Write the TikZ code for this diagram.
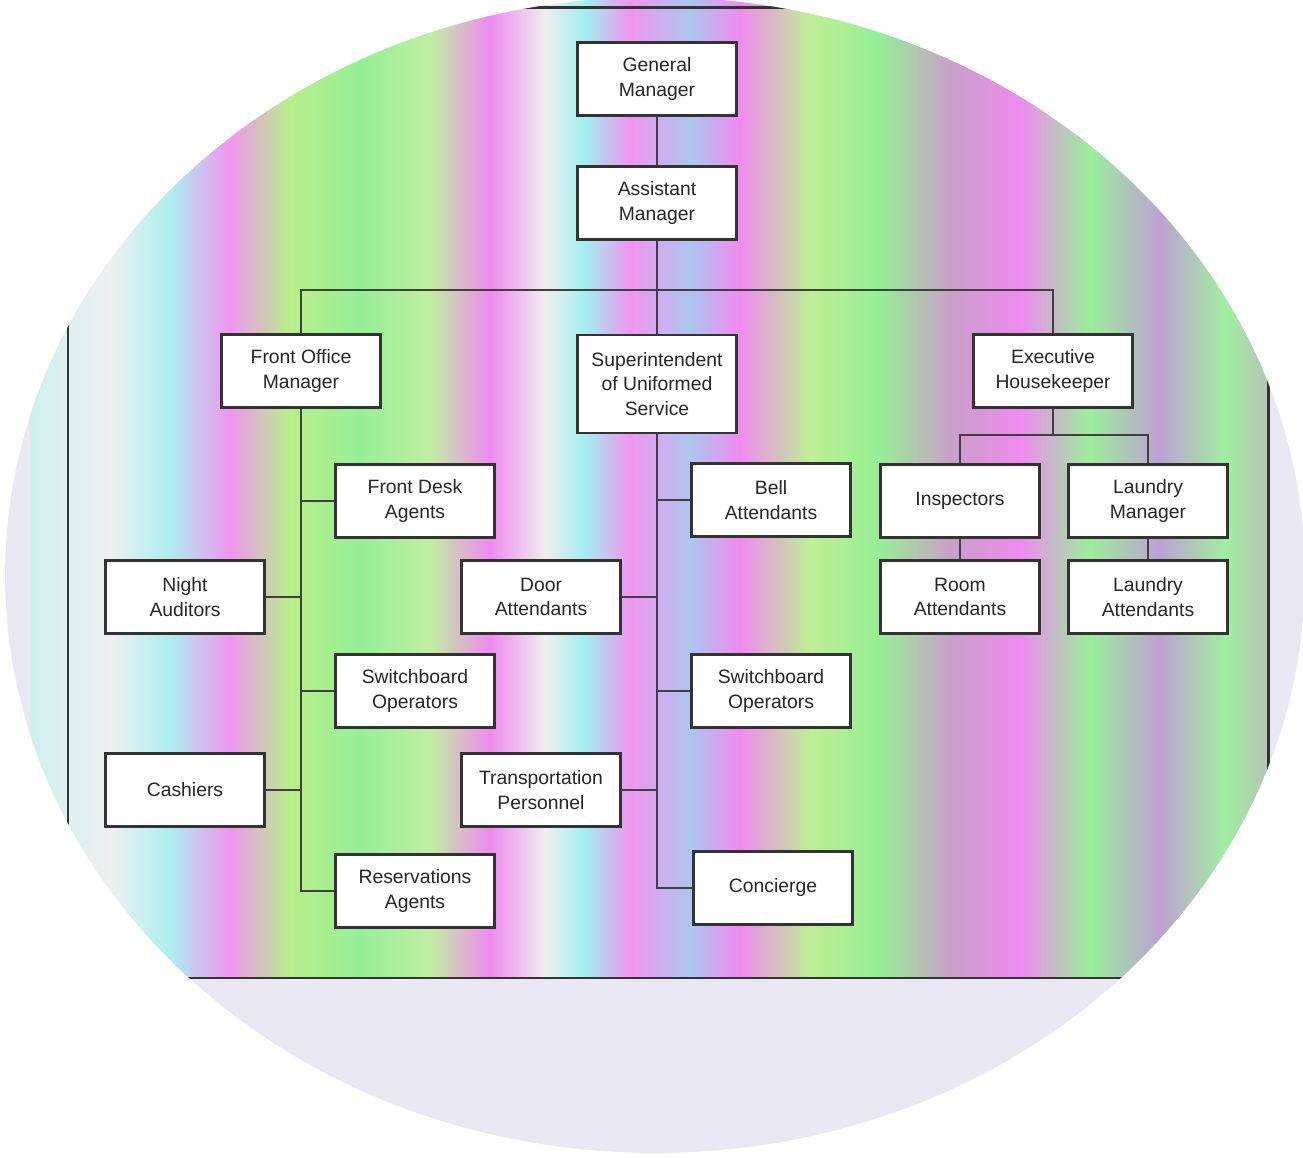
\documentclass[tikz,border=0pt]{standalone}
\usepackage{fontspec}
\setmainfont{Liberation Sans}
\definecolor{palebg}{RGB}{233,231,242}
\begin{document}
\begin{tikzpicture}[x=0.02cm,y=-0.02cm,
  box/.style={draw=black!80, line width=1.2pt, fill=white, minimum width=3.18cm, minimum height=1.46cm,
    align=center, font=\fontsize{11}{14}\selectfont, text=black!85, inner sep=1pt},
  tall/.style={minimum height=1.96cm},
  link/.style={draw=black!75, line width=1.1pt},
  framel/.style={draw=black!80, line width=1.7pt}]
\useasboundingbox (0,0) rectangle (1303,1158);
\fill[white] (0,0) rectangle (1303,1158);
% circular coloured backdrop
\fill[palebg] (655,575) ellipse [x radius=13cm, y radius=11.56cm];
\begin{scope}
  \clip (655,575) ellipse [x radius=13cm, y radius=11.56cm];
  \clip (30,0) rectangle (1268,978);
  \shade[left color=cyan!20, right color=white] (0,0) rectangle (110,978);
  \shade[left color=white, right color=cyan!30] (110,0) rectangle (170,978);
  \shade[left color=cyan!30, right color=magenta!40] (170,0) rectangle (230,978);
  \shade[left color=magenta!40, right color=yellow!45!green!45] (230,0) rectangle (290,978);
  \shade[left color=yellow!45!green!45, right color=green!40] (290,0) rectangle (360,978);
  \shade[left color=green!40, right color=yellow!40!green!35] (360,0) rectangle (430,978);
  \shade[left color=yellow!40!green!35, right color=magenta!45] (430,0) rectangle (490,978);
  \shade[left color=magenta!45, right color=white] (490,0) rectangle (545,978);
  \shade[left color=white, right color=cyan!35] (545,0) rectangle (585,978);
  \shade[left color=cyan!35, right color=magenta!40] (585,0) rectangle (630,978);
  \shade[left color=magenta!40, right color=cyan!40!blue!30] (630,0) rectangle (690,978);
  \shade[left color=cyan!40!blue!30, right color=magenta!45] (690,0) rectangle (740,978);
  \shade[left color=magenta!45, right color=yellow!45!green!40] (740,0) rectangle (810,978);
  \shade[left color=yellow!45!green!40, right color=green!40] (810,0) rectangle (880,978);
  \shade[left color=green!40, right color=violet!35] (880,0) rectangle (950,978);
  \shade[left color=violet!35, right color=magenta!45] (950,0) rectangle (1020,978);
  \shade[left color=magenta!45, right color=green!38] (1020,0) rectangle (1090,978);
  \shade[left color=green!38, right color=blue!25!violet!35] (1090,0) rectangle (1160,978);
  \shade[left color=blue!25!violet!35, right color=green!35] (1160,0) rectangle (1225,978);
  \shade[left color=green!35, right color=violet!35] (1225,0) rectangle (1303,978);
  \fill[gray, opacity=0.12] (0,0) rectangle (1303,978);
\end{scope}
\begin{scope}
  \clip (655,575) ellipse [x radius=13cm, y radius=11.56cm];
  \draw[framel] (68,8) rectangle (1268,978);
\end{scope}

% nodes
\node[box] (gm) at (657,79) {General\\Manager};
\node[box] (am) at (657,203) {Assistant\\Manager};
\node[box] (fom) at (301,371) {Front Office\\Manager};
\node[box,tall] (sup) at (657,384) {Superintendent\\of Uniformed\\Service};
\node[box] (eh) at (1053,371) {Executive\\Housekeeper};

\node[box] (fda) at (415,501) {Front Desk\\Agents};
\node[box] (na) at (185,597) {Night\\Auditors};
\node[box] (sol) at (415,691) {Switchboard\\Operators};
\node[box] (cash) at (185,790) {Cashiers};
\node[box] (res) at (415,891) {Reservations\\Agents};

\node[box] (bell) at (771,500) {Bell\\Attendants};
\node[box] (door) at (541,597) {Door\\Attendants};
\node[box] (sor) at (771,691) {Switchboard\\Operators};
\node[box] (trans) at (541,790) {Transportation\\Personnel};
\node[box] (conc) at (773,888) {Concierge};

\node[box] (insp) at (960,501) {Inspectors};
\node[box] (lmgr) at (1148,501) {Laundry\\Manager};
\node[box] (room) at (960,597) {Room\\Attendants};
\node[box] (latt) at (1148,597) {Laundry\\Attendants};

\coordinate (bus) at (657,290);
\coordinate (hk) at (1053,435);

% connectors
\draw[link] (gm) -- (am);
\draw[link] (am) -- (sup);
\draw[link] (fom.north) |- (bus) -| (eh.north);

\draw[link] (fom.south) |- (res.west);
\draw[link] (fda.west) -- (fda.west -| fom.south);
\draw[link] (na.east) -- (na.east -| fom.south);
\draw[link] (sol.west) -- (sol.west -| fom.south);
\draw[link] (cash.east) -- (cash.east -| fom.south);

\draw[link] (sup.south) |- (conc.west);
\draw[link] (bell.west) -- (bell.west -| sup.south);
\draw[link] (door.east) -- (door.east -| sup.south);
\draw[link] (sor.west) -- (sor.west -| sup.south);
\draw[link] (trans.east) -- (trans.east -| sup.south);

\draw[link] (eh.south) -- (hk);
\draw[link] (insp.north) |- (hk) -| (lmgr.north);
\draw[link] (insp) -- (room);
\draw[link] (lmgr) -- (latt);
\end{tikzpicture}
\end{document}
